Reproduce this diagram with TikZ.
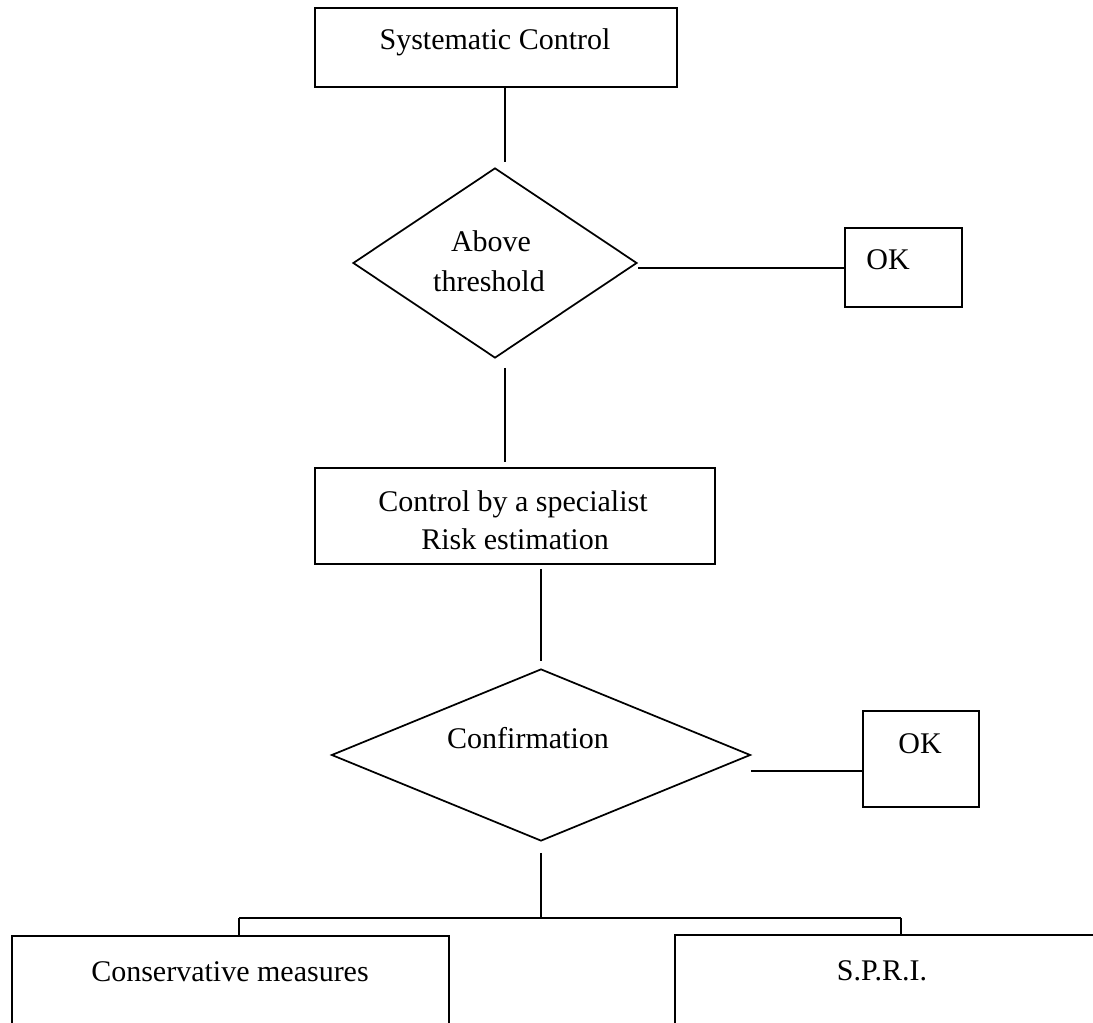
\documentclass[tikz,border=0pt]{standalone}
\usepackage{fontspec}
\setmainfont{Liberation Serif}
\usetikzlibrary{shapes.geometric,calc}
\tikzset{
  boxshape/.style={draw, rectangle, inner sep=0pt, line width=1.3pt},
  diashape/.style={draw, diamond, inner sep=0pt, line width=1.3pt},
  conn/.style={line width=1.3pt},
  lbl/.style={anchor=base, inner sep=0pt, font=\fontsize{22.5}{28.5}\selectfont}
}
\begin{document}
\begin{tikzpicture}[x=0.75pt,y=-0.75pt]
\useasboundingbox (0,0) rectangle (1093,1023);
\clip (0,0) rectangle (1093,1023);
% shapes
\node[boxshape, minimum width=271.5pt, minimum height=59.25pt] (sc) at (496,47.5) {};
\node[diashape, minimum width=213pt, minimum height=142.5pt] (d1) at (495,263) {};
\node[boxshape, minimum width=87.75pt, minimum height=59.25pt] (ok1) at (903.5,267.5) {};
\node[boxshape, minimum width=300pt, minimum height=72pt] (b2) at (515,516) {};
\node[diashape, minimum width=314.25pt, minimum height=129pt] (d2) at (541,755) {};
\node[boxshape, minimum width=87pt, minimum height=72pt] (ok2) at (921,759) {};
\node[boxshape, minimum width=327.75pt, minimum height=93pt] (b3) at (230.5,998) {};
\node[boxshape, minimum width=333.75pt, minimum height=93.75pt] (b4) at (897.5,997.5) {};
% texts
\node[lbl] (t1) at (495,50) {Systematic Control};
\node[lbl] (t2) at (491,252) {Above};
\node[lbl] (t3) at (489,292) {threshold};
\node[lbl] (t4) at (888,270) {OK};
\node[lbl] (t5) at (513,512) {Control by a specialist};
\node[lbl] (t6) at (515,550) {Risk estimation};
\node[lbl] (t7) at (528,748) {Confirmation};
\node[lbl] (t8) at (920,753) {OK};
\node[lbl] (t9) at (230,981) {Conservative measures};
\node[lbl] (t10) at (882,980) {S.P.R.I.};
% connectors
\draw[conn] ($(sc.south)+(9,0)$) -- ($(d1.north)+(10,-5)$);
\draw[conn] ($(ok1.west)+(0,0.5)$) -- ($(ok1.west -| d1.east)+(0,0.5)$);
\draw[conn] ($(d1.south)+(10,9)$) -- ($(b2.north)+(-10,-5)$);
\draw[conn] ($(b2.south -| d2.north)+(0,4)$) -- ($(d2.north)+(0,-7)$);
\draw[conn] ($(ok2.west)+(0,12)$) -- ($(ok2.west -| d2.east)+(0,12)$);
\coordinate (jl) at (239,918);
\coordinate (jr) at (901,918);
\draw[conn] ($(d2.south)+(0,11)$) -- (d2.south |- jl);
\draw[conn] (jl) -- (jr);
\draw[conn] (jl) -- (jl |- b3.north);
\draw[conn] (jr) -- (jr |- b4.north);
\end{tikzpicture}
\end{document}
